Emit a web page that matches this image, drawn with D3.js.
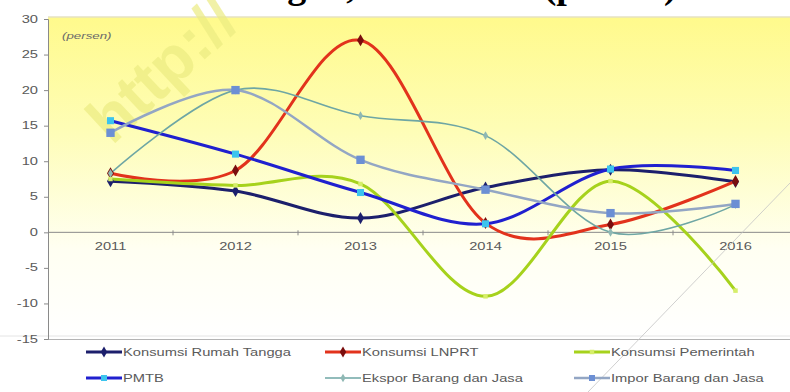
<!DOCTYPE html>
<html>
<head>
<meta charset="utf-8">
<script src="https://cdn.jsdelivr.net/npm/d3@7"></script>
<style>
  html, body { margin: 0; padding: 0; background: #fff; }
  svg { display: block; }
</style>
</head>
<body>
<svg id="chart" width="790" height="392"></svg>
<script>
// Growth by expenditure component, 2011–2016 (percent)
const years = ["2011", "2012", "2013", "2014", "2015", "2016"];
const rumahTangga = [7.2, 5.8, 2.0, 6.3, 8.8, 7.1];
const lnprt = [8.3, 8.7, 27.0, 1.3, 1.1, 7.2];
const pemerintah = [7.5, 6.6, 6.8, -9.0, 7.2, -8.2];
const pmtb = [15.7, 11.0, 5.6, 1.2, 8.9, 8.7];
const ekspor = [8.3, 20.0, 16.4, 13.6, 0.0, 3.9];
const impor = [14.0, 20.0, 10.2, 6.0, 2.7, 4.0];
const yTicks = [-15, -10, -5, 0, 5, 10, 15, 20, 25, 30];
const seriesNames = ["Konsumsi Rumah Tangga", "Konsumsi LNPRT", "Konsumsi Pemerintah",
                     "PMTB", "Ekspor Barang dan Jasa", "Impor Barang dan Jasa"];

const series = [
  { name: seriesNames[0], values: rumahTangga, color: "#1c1f6c", width: 3,   marker: "diamond", mfill: "#1c1f6c", msize: 42 },
  { name: seriesNames[1], values: lnprt,       color: "#e2321c", width: 3,   marker: "diamond", mfill: "#7a0d0d", msize: 42 },
  { name: seriesNames[2], values: pemerintah,  color: "#a6d21c", width: 3,   marker: "square",  mfill: "#d6ee6a", msize: 20 },
  { name: seriesNames[3], values: pmtb,        color: "#2020cf", width: 3,   marker: "square",  mfill: "#3cc4ee", msize: 50 },
  { name: seriesNames[4], values: ekspor,      color: "#6ea6a4", width: 1.6, marker: "diamond", mfill: "#8fb8b4", msize: 22 },
  { name: seriesNames[5], values: impor,       color: "#93a6c4", width: 2.5, marker: "square",  mfill: "#6c8fd4", msize: 70 }
];

const svg = d3.select("#chart");
const W = 790, H = 392;
const plot = { left: 48, right: 798, top: 19, bottom: 339 };
const FONT = "Liberation Sans, Arial, sans-serif";
const STRETCH = 1.4;   // labels are set wide

const x = d3.scaleBand().domain(years).range([plot.left, plot.right]);
const y = d3.scaleLinear().domain([-15, 30]).range([plot.bottom, plot.top]);
const cx = d => x(d) + x.bandwidth() / 2;

// Horizontally widened label
function wideText(parent, tx, ty, str, opts = {}) {
  return parent.append("text")
    .attr("transform", `translate(${tx},${ty}) scale(${STRETCH},1)`)
    .attr("text-anchor", opts.anchor || "start")
    .attr("font-family", FONT)
    .attr("font-size", opts.size || 10.5)
    .attr("font-style", opts.italic ? "italic" : null)
    .attr("fill", opts.fill || "#5a5a5a")
    .text(str);
}

// Background gradient of the plot area
const defs = svg.append("defs");
const grad = defs.append("linearGradient").attr("id", "bg").attr("x1", 0).attr("y1", 0).attr("x2", 0).attr("y2", 1);
grad.append("stop").attr("offset", "0%").attr("stop-color", "#fffa8c");
grad.append("stop").attr("offset", "35%").attr("stop-color", "#fefdb6");
grad.append("stop").attr("offset", "72%").attr("stop-color", "#fffff2");
grad.append("stop").attr("offset", "100%").attr("stop-color", "#ffffff");

svg.append("rect")
  .attr("x", plot.left).attr("y", plot.top - 2)
  .attr("width", W - plot.left).attr("height", plot.bottom - plot.top + 2)
  .attr("fill", "url(#bg)");

// Frame lines
svg.append("line").attr("x1", plot.left).attr("x2", W).attr("y1", plot.top - 2).attr("y2", plot.top - 2)
  .attr("stroke", "#e6e2c2").attr("stroke-width", 1.5);
svg.append("line").attr("x1", 0).attr("x2", W).attr("y1", plot.bottom - 3).attr("y2", plot.bottom - 3)
  .attr("stroke", "#e4e4e4").attr("stroke-width", 1);
svg.append("line").attr("x1", plot.left).attr("x2", W).attr("y1", plot.bottom + 0.5).attr("y2", plot.bottom + 0.5)
  .attr("stroke", "#b4b4b4").attr("stroke-width", 1);

// Watermark
svg.append("text")
  .attr("transform", "translate(112,146) rotate(-43)")
  .attr("font-family", FONT)
  .attr("font-weight", "bold")
  .attr("font-size", 64)
  .attr("fill", "#ecec82")
  .attr("opacity", 0.7)
  .text("http://");

// Title (runs above the top edge)
svg.append("text")
  .attr("x", -20).attr("y", -2)
  .attr("font-family", "Liberation Serif, Times New Roman, serif")
  .attr("font-weight", "bold")
  .attr("font-size", 38)
  .attr("fill", "#000")
  .text("Grafik Perkembangan, 2011–2016 (persen)");

// Y axis
const yAxis = d3.axisLeft(y).tickValues(yTicks).tickSize(4).tickFormat("");
const gy = svg.append("g").attr("transform", `translate(${plot.left},0)`).call(yAxis);
gy.select(".domain").attr("stroke", "#8a8a8a");
gy.selectAll(".tick line").attr("stroke", "#8a8a8a");
yTicks.forEach(t => wideText(svg, 38, y(t) + 3.5, String(t), { anchor: "end" }));

// X axis along zero, with ticks between categories
const zeroY = y(0);
svg.append("line").attr("x1", plot.left).attr("x2", W).attr("y1", zeroY).attr("y2", zeroY)
  .attr("stroke", "#8a8a8a").attr("stroke-width", 1);
svg.append("g").selectAll("line").data(years.slice(1)).join("line")
  .attr("x1", d => x(d)).attr("x2", d => x(d))
  .attr("y1", zeroY - 2).attr("y2", zeroY + 3)
  .attr("stroke", "#8a8a8a");
years.forEach(yr => wideText(svg, cx(yr), zeroY + 18, yr, { anchor: "middle" }));

// Unit label
wideText(svg, 62, 39, "(persen)", { size: 9.5, italic: true, fill: "#6a6a6a" });

// Lines
const line = d3.line()
  .x((d, i) => cx(years[i]))
  .y(d => y(d))
  .curve(d3.curveCardinal.tension(0));

const symbolOf = m => m === "diamond" ? d3.symbolDiamond : d3.symbolSquare;

const gLines = svg.append("g");
series.forEach(s => {
  gLines.append("path")
    .attr("d", line(s.values))
    .attr("fill", "none")
    .attr("stroke", s.color)
    .attr("stroke-width", s.width)
    .attr("stroke-linejoin", "round")
    .attr("stroke-linecap", "round");
});
series.forEach(s => {
  gLines.append("g").selectAll("path").data(s.values).join("path")
    .attr("transform", (d, i) => `translate(${cx(years[i])},${y(d)})`)
    .attr("d", d3.symbol().type(symbolOf(s.marker)).size(s.msize))
    .attr("fill", s.mfill);
});

// Thin diagonal mark across the lower right
svg.append("line").attr("x1", 588).attr("y1", 392).attr("x2", 790).attr("y2", 183)
  .attr("stroke", "#c4c4c4").attr("stroke-width", 0.8);

// Legend
const legendCols = [86, 325, 574];
const legendRows = [352, 378];
const gLeg = svg.append("g");
series.forEach((s, i) => {
  const lx = legendCols[i % 3], ly = legendRows[Math.floor(i / 3)];
  const g = gLeg.append("g").attr("transform", `translate(${lx},${ly})`);
  g.append("line").attr("x1", 0).attr("x2", 36).attr("y1", 0).attr("y2", 0)
    .attr("stroke", s.color).attr("stroke-width", s.width);
  g.append("path").attr("transform", "translate(18,0)")
    .attr("d", d3.symbol().type(symbolOf(s.marker)).size(Math.min(s.msize, 36)))
    .attr("fill", s.mfill);
  wideText(g, 37, 3.5, s.name);
});
</script>
</body>
</html>
